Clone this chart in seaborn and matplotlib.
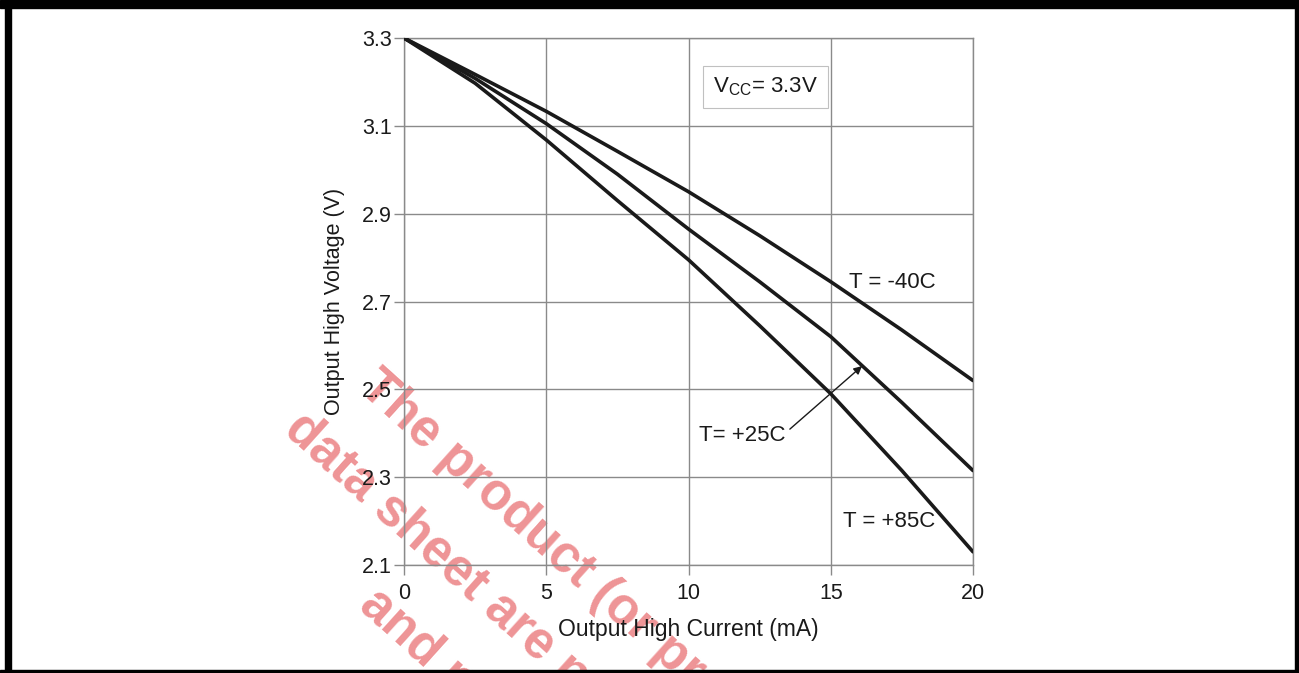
import pandas as pd
import matplotlib.pyplot as plt
import seaborn as sns
from matplotlib.patches import Rectangle

# 数据：不同温度下的输出高电平电压
current = [0, 2.5, 5, 7.5, 10, 12.5, 15, 17.5, 20]
v_m40 = [3.3, 3.217, 3.133, 3.042, 2.95, 2.85, 2.745, 2.635, 2.52]
v_p25 = [3.3, 3.208, 3.105, 2.99, 2.865, 2.745, 2.62, 2.47, 2.315]
v_p85 = [3.3, 3.197, 3.068, 2.93, 2.795, 2.645, 2.49, 2.315, 2.13]
temps = ['T = -40C', 'T= +25C', 'T = +85C']
x_ticks = [0, 5, 10, 15, 20]
y_ticks = [2.1, 2.3, 2.5, 2.7, 2.9, 3.1, 3.3]
watermark = ['The product (or products) in this',
             'data sheet are no longer recommended',
             'and no longer available']

rows = []
for name, vals in zip(temps, [v_m40, v_p25, v_p85]):
    for c, v in zip(current, vals):
        rows.append({'I': c, 'V': v, 'T': name})
df = pd.DataFrame(rows)

sns.set_theme(style='white')
plt.rcParams['font.family'] = ['Liberation Sans', 'DejaVu Sans']
plt.rcParams['mathtext.fontset'] = 'custom'
plt.rcParams['mathtext.rm'] = 'Liberation Sans'

fig = plt.figure(figsize=(12.99, 6.73), dpi=100)
ax = fig.add_axes([404 / 1299, 1 - 565 / 673, 569 / 1299, 527 / 673])
ax.patch.set_alpha(0)

sns.lineplot(data=df, x='I', y='V', hue='T', palette=['#1a1a1a'] * 3,
             linewidth=2.6, legend=False, ax=ax, zorder=3)

ax.set_xlim(0, 20)
ax.set_ylim(2.1, 3.3)
ax.set_xticks(x_ticks)
ax.set_yticks(y_ticks)
ax.set_yticklabels([f'{y:.1f}' for y in y_ticks])
ax.grid(True, color='#8a8a8a', linewidth=1.0)
for s in ax.spines.values():
    s.set_color('#8a8a8a')
    s.set_linewidth(1.0)
ax.tick_params(axis='both', which='major', length=7, width=1.0, color='#8a8a8a',
               labelsize=15.5, labelcolor='#1a1a1a', bottom=True, left=True, pad=2)
ax.tick_params(axis='x', pad=6)
ax.set_xlabel('Output High Current (mA)', fontsize=16.5, color='#1a1a1a', labelpad=10)
ax.set_ylabel('Output High Voltage (V)', fontsize=15.5, color='#1a1a1a', labelpad=12)

# 温度标注
ax.text(15.64, 2.744, temps[0], fontsize=16, color='#1a1a1a', va='center', zorder=4)
ax.text(15.43, 2.2, temps[2], fontsize=16, color='#1a1a1a', va='center', zorder=4)
ax.annotate(temps[1], xy=(16.1, 2.553), xytext=(10.37, 2.396), fontsize=16,
            color='#1a1a1a', va='center', ha='left', zorder=4,
            arrowprops=dict(arrowstyle='-|>', color='#1a1a1a', lw=1.0,
                            mutation_scale=12, shrinkA=1, shrinkB=0, relpos=(1, 0.6)))
ax.text(10.86, 3.188, r'V$_{\mathrm{CC}}$= 3.3V', fontsize=16, color='#1a1a1a',
        va='center', ha='left', zorder=4,
        bbox=dict(boxstyle='square,pad=0.45', fc='white', ec='#c0c0c0', lw=0.8))

# 水印（在坐标轴下层）
wm_pos = [(357, 390), (282, 432), (357, 608)]
for txt, (px, py) in zip(watermark, wm_pos):
    fig.text(px / 1299, 1 - py / 673, txt, fontsize=37, fontweight='bold',
             color='#ee9496', rotation=-42, rotation_mode='anchor',
             ha='left', va='baseline', zorder=-1)

# 外框
black = '#000000'
fig.add_artist(Rectangle((0, 1 - 8 / 673), 1, 8 / 673, transform=fig.transFigure,
                         color=black, zorder=20))
fig.add_artist(Rectangle((5 / 1299, 0), 6 / 1299, 1, transform=fig.transFigure,
                         color=black, zorder=20))
fig.add_artist(Rectangle((1295 / 1299, 0), 4 / 1299, 1, transform=fig.transFigure,
                         color=black, zorder=20))
fig.add_artist(Rectangle((0, 0), 1, 3 / 673, transform=fig.transFigure,
                         color=black, zorder=20))

fig.savefig('out.png', dpi=100)
